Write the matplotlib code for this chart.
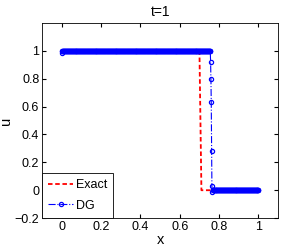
import numpy as np
import matplotlib
matplotlib.use('Agg')
import matplotlib.pyplot as plt

plt.rcParams['font.family'] = ['Liberation Sans', 'DejaVu Sans']

# exact solution on a coarse grid
x_exact = np.linspace(0, 1, 101)
n_exact_one = 71                      # u=1 up to x=0.70
u_exact = [1.0] * n_exact_one + [0.0] * (101 - n_exact_one)

# DG nodal values
x_dg = np.linspace(0, 1, 601)
u_first = [0.985]
n_dg_one = 453
u_shock = [0.92, 0.80, 0.63, 0.28, 0.03, -0.01]
n_dg_zero = 601 - 1 - n_dg_one - len(u_shock)
u_dg = u_first + [1.0] * n_dg_one + u_shock + [0.0] * n_dg_zero

fig = plt.figure(figsize=(3.07, 2.47), dpi=100)
ax = fig.add_axes([0.137, 0.117, 0.769, 0.79])

ax.plot(x_exact, u_exact, color='r', ls=(0, (2.5, 1.5)), lw=1.3, label='Exact')
ax.plot(x_dg, u_dg, 'b-.', lw=0.8, marker='o', ms=3, mfc='none', mew=0.9, label='DG')

ax.set_xlim(-0.1, 1.1)
ax.set_ylim(-0.2, 1.2)
ax.set_xticks([0, 0.2, 0.4, 0.6, 0.8, 1])
ax.set_xticklabels(['0', '0.2', '0.4', '0.6', '0.8', '1'])
ax.set_yticks([-0.2, 0, 0.2, 0.4, 0.6, 0.8, 1])
ax.set_yticklabels(['\u22120.2', '0', '0.2', '0.4', '0.6', '0.8', '1'])
ax.tick_params(direction='in', top=True, right=True, length=3, labelsize=9, pad=2)
for s in ax.spines.values():
    s.set_linewidth(0.6)

ax.set_title('t=1', fontsize=10, pad=5)
ax.set_xlabel('x', fontsize=10.5, labelpad=0)
ax.set_ylabel('u', fontsize=10.5)
ax.yaxis.set_label_coords(-0.125, 0.5)

leg = ax.legend(loc='lower left', fontsize=9, fancybox=False, framealpha=1,
                edgecolor='k', borderaxespad=0, handlelength=2.0,
                borderpad=0.5, labelspacing=0.7, handletextpad=0.2)
leg.get_frame().set_linewidth(0.6)

fig.savefig('out.png', dpi=100)
